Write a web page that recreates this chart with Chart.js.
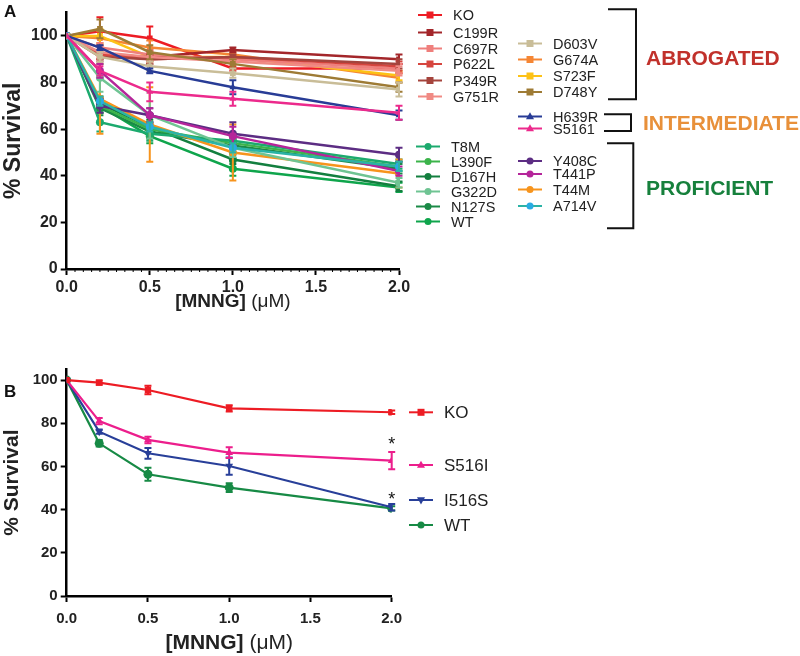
<!DOCTYPE html>
<html>
<head>
<meta charset="utf-8">
<script src="https://cdn.jsdelivr.net/npm/chart.js@4/dist/chart.umd.min.js"></script>
<style>
  html, body { margin: 0; padding: 0; background: #fff; }
  #wrap { position: relative; width: 800px; height: 656px; }
  canvas { position: absolute; left: 0; display: block; }
  #chartA { top: 0; }
  #chartB { top: 335px; }
</style>
</head>
<body>
<div id="wrap">
  <canvas id="chartA" width="800" height="335"></canvas>
  <canvas id="chartB" width="800" height="321"></canvas>
</div>
<script>
// ---- data ----
const doses = [0, 0.2, 0.5, 1.0, 2.0];
const yTicks = [0, 20, 40, 60, 80, 100];

// panel A
const namesA = ["S5161", "H639R", "D603V", "D748Y", "G751R", "P349R", "P622L", "C697R", "C199R", "S723F", "G674A", "KO",
                "A714V", "T441P", "Y408C", "G322D", "T44M", "T8M", "L390F", "N127S", "D167H", "WT"];
const valuesA = [
  [100, 85, 76, 73, 67],
  [100, 95, 85, 78, 66],
  [100, 91, 87, 84, 77],
  [100, 103, 93, 88, 78],
  [100, 93, 91, 89, 85],
  [100, 91, 90, 91, 88],
  [100, 92, 90, 91, 87],
  [100, 95, 92, 90, 86],
  [100, 92, 91, 94, 90],
  [100, 100, 91, 91, 83],
  [100, 99, 95, 92, 82],
  [100, 102, 99, 86, 86],
  [100, 72, 61, 52, 44],
  [100, 85, 66, 57, 42],
  [100, 70, 66, 58, 49],
  [100, 82, 66, 52, 37],
  [100, 73, 62, 50, 41],
  [100, 63, 58, 55, 45],
  [100, 70, 60, 54, 44],
  [100, 69, 59, 53, 43],
  [100, 71, 61, 47, 35.5],
  [100, 70, 57, 43, 35]
];
const errorsA = [
  [0, 2, 4, 3, 3],
  [0, 1, 1, 3, 2],
  [0, 2, 2, 2, 3],
  [0, 4, 3, 2, 2],
  [0, 2, 2, 1, 2],
  [0, 2, 2, 1, 2],
  [0, 2, 2, 1, 2],
  [0, 2, 2, 1, 2],
  [0, 2, 2, 1, 2],
  [0, 3, 2, 2, 2],
  [0, 3, 3, 2, 2],
  [0, 6, 5, 1, 2],
  [0, 2, 2, 2, 2],
  [0, 3, 3, 4, 2],
  [0, 3, 3, 5, 3],
  [0, 6, 10, 4, 2],
  [0, 15, 16, 12, 6],
  [0, 4, 3, 2, 2],
  [0, 3, 3, 2, 2],
  [0, 3, 3, 3, 2],
  [0, 3, 3, 2, 2],
  [0, 3, 3, 3, 2]
];

// panel B
const namesB = ["KO", "S516I", "I516S", "WT"];
const valuesB = [
  [100, 98.8, 95.4, 86.9, 85.1],
  [100, 81, 72.3, 66.4, 62.7],
  [100, 76.1, 66.1, 60.2, 41.1],
  [100, 70.7, 56.4, 50.2, 40.6]
];
const errorsB = [
  [0, 1, 2, 1.5, 0.8],
  [0, 1.5, 1.5, 2.5, 4],
  [0, 1, 2.5, 4, 1.5],
  [0, 1.5, 3, 2, 1]
];
const starsB = [[2, 71.5], [2, 46]];

// ---- styles ----
const FONT = "'Liberation Sans', Arial, Helvetica, sans-serif";
const styleA = {
  KO:    ["#ed1c24", "rect"],
  C199R: ["#a3262a", "rect"],
  C697R: ["#ef7f7c", "rect"],
  P622L: ["#d6453e", "rect"],
  P349R: ["#a5443d", "rect"],
  G751R: ["#f08a84", "rect"],
  D603V: ["#c9bd98", "rect"],
  G674A: ["#f58634", "rect"],
  S723F: ["#fdc216", "rect"],
  D748Y: ["#9e7b35", "rect"],
  H639R: ["#283c96", "triangle"],
  S5161: ["#ec2a8c", "triangle"],
  T8M:   ["#1caa6e", "circle"],
  L390F: ["#3cb44b", "circle"],
  D167H: ["#137f3f", "circle"],
  G322D: ["#6fc493", "circle"],
  N127S: ["#1b8a47", "circle"],
  WT:    ["#0fa54c", "circle"],
  Y408C: ["#5c2d83", "circle"],
  T441P: ["#b5259a", "circle"],
  T44M:  ["#f7941d", "circle"],
  A714V: ["#2bb3a6", "circle", "#29abe2"]
};
const styleB = {
  KO:    ["#ed1c24", "rect", 0],
  S516I: ["#ec1e8c", "triangle", 0],
  I516S: ["#283f99", "triangle", 180],
  WT:    ["#178a45", "circle", 0]
};

// legend layout (canvas pixels)
const slotsA = {
  KO: [418, 15], C199R: [418, 32.5], C697R: [418, 48.5], P622L: [418, 64], P349R: [418, 80.5], G751R: [418, 96.5],
  D603V: [518, 43.5], G674A: [518, 59.5], S723F: [518, 76], D748Y: [518, 92],
  H639R: [518, 116.5], S5161: [518, 128.5],
  T8M: [416, 146.5], L390F: [416, 161.5], D167H: [416, 176.5], G322D: [416, 191.5], N127S: [416, 206.5], WT: [416, 221.5],
  Y408C: [518, 161], T441P: [518, 174], T44M: [518, 189.5], A714V: [518, 206]
};
const slotsB = { KO: [409, 77.3], S516I: [409, 130], I516S: [409, 165], WT: [409, 190] };

function marker(ctx, style, x, y, r, color, rot) {
  ctx.fillStyle = color;
  ctx.beginPath();
  if (style === "rect") {
    ctx.rect(x - r, y - r, 2 * r, 2 * r);
  } else if (style === "triangle") {
    const s = rot ? -1 : 1;
    ctx.moveTo(x, y - s * r * 1.25);
    ctx.lineTo(x + r * 1.15, y + s * r * 0.8);
    ctx.lineTo(x - r * 1.15, y + s * r * 0.8);
    ctx.closePath();
  } else {
    ctx.arc(x, y, r, 0, Math.PI * 2);
  }
  ctx.fill();
}

const errorBars = {
  id: "errorBars",
  afterDatasetDraw(chart, args) {
    const ds = chart.data.datasets[args.index];
    if (!ds.errors) return;
    const xs = chart.scales.x, ys = chart.scales.y, ctx = chart.ctx;
    ctx.save();
    ctx.strokeStyle = ds.borderColor;
    ctx.lineWidth = 2;
    ds.data.forEach((p, i) => {
      const e = ds.errors[i];
      if (!e) return;
      const px = xs.getPixelForValue(p.x);
      const t = ys.getPixelForValue(p.y + e), b = ys.getPixelForValue(p.y - e);
      ctx.beginPath();
      ctx.moveTo(px, t); ctx.lineTo(px, b);
      ctx.moveTo(px - 3.5, t); ctx.lineTo(px + 3.5, t);
      ctx.moveTo(px - 3.5, b); ctx.lineTo(px + 3.5, b);
      ctx.stroke();
    });
    ctx.restore();
  }
};

function drawXTitle(chart, y, size) {
  const ctx = chart.ctx, a = chart.chartArea;
  const p1 = "[MNNG]", p2 = " (\u03bcM)";
  ctx.save();
  ctx.fillStyle = "#222";
  ctx.textBaseline = "middle";
  ctx.font = "bold " + size + "px " + FONT;
  const w1 = ctx.measureText(p1).width;
  ctx.font = size + "px " + FONT;
  const w2 = ctx.measureText(p2).width;
  const x0 = (a.left + a.right) / 2 - (w1 + w2) / 2;
  ctx.font = "bold " + size + "px " + FONT;
  ctx.textAlign = "left";
  ctx.fillText(p1, x0, y);
  ctx.font = size + "px " + FONT;
  ctx.fillText(p2, x0 + w1, y);
  ctx.restore();
}

function drawLegend(ctx, names, slots, styles, fontSize, r) {
  ctx.save();
  ctx.textBaseline = "middle";
  ctx.textAlign = "left";
  ctx.font = fontSize + "px " + FONT;
  names.forEach(n => {
    const [x, y] = slots[n];
    const st = styles[n];
    ctx.strokeStyle = st[0];
    ctx.lineWidth = 2;
    ctx.beginPath(); ctx.moveTo(x, y); ctx.lineTo(x + 24, y); ctx.stroke();
    marker(ctx, st[1], x + 12, y, r, st[2] && typeof st[2] === "string" ? st[2] : st[0], typeof st[2] === "number" ? st[2] : 0);
    ctx.fillStyle = "#222";
    ctx.fillText(n, x + 35, y + 1);
  });
  ctx.restore();
}

function bracket(ctx, x0, x1, y0, y1) {
  ctx.beginPath();
  ctx.moveTo(x0, y0); ctx.lineTo(x1, y0); ctx.lineTo(x1, y1); ctx.lineTo(x0, y1);
  ctx.stroke();
}

const decorA = {
  id: "decorA",
  afterDraw(chart) {
    const ctx = chart.ctx;
    // minor ticks on x axis
    const xs = chart.scales.x, yb = chart.chartArea.bottom;
    ctx.save();
    ctx.strokeStyle = "#000";
    ctx.lineWidth = 1;
    for (let k = 1; k < 40; k++) {
      if (k % 10 === 0) continue;
      const px = xs.getPixelForValue(k * 0.05);
      ctx.beginPath(); ctx.moveTo(px, yb); ctx.lineTo(px, yb + 3); ctx.stroke();
    }
    ctx.restore();

    drawXTitle(chart, 302, 19);

    ctx.save();
    ctx.fillStyle = "#111";
    ctx.font = "bold 17px " + FONT;
    ctx.textBaseline = "middle";
    ctx.fillText("A", 4, 12);
    ctx.restore();

    drawLegend(ctx, namesA, slotsA, styleA, 14.5, 3.5);

    ctx.save();
    ctx.strokeStyle = "#111";
    ctx.lineWidth = 2;
    bracket(ctx, 608, 636, 9.3, 99.3);
    bracket(ctx, 604, 631, 114.3, 131);
    bracket(ctx, 607, 633.3, 143.3, 228.3);
    ctx.font = "bold 21px " + FONT;
    ctx.textBaseline = "middle";
    ctx.fillStyle = "#c1312b";
    ctx.fillText("ABROGATED", 646, 59);
    ctx.fillStyle = "#e8903a";
    ctx.fillText("INTERMEDIATE", 643, 124);
    ctx.fillStyle = "#16803c";
    ctx.fillText("PROFICIENT", 646, 189);
    ctx.restore();
  }
};

const decorB = {
  id: "decorB",
  afterDraw(chart) {
    const ctx = chart.ctx;
    drawXTitle(chart, 308, 21);
    ctx.save();
    ctx.fillStyle = "#111";
    ctx.font = "bold 17px " + FONT;
    ctx.textBaseline = "middle";
    ctx.fillText("B", 4, 57);
    ctx.font = "18px " + FONT;
    ctx.textAlign = "center";
    const xs = chart.scales.x, ys = chart.scales.y;
    starsB.forEach(([sx, sy]) => ctx.fillText("*", xs.getPixelForValue(sx), ys.getPixelForValue(sy) + 3));
    ctx.restore();
    drawLegend(ctx, namesB, slotsB, styleB, 17, 3.5);
  }
};

function axes(tickSize, yTitleSize, xHeight, yMax, xPad) {
  const tickFont = { family: FONT, weight: "bold", size: tickSize };
  return {
    x: {
      type: "linear", min: 0, max: 2,
      ticks: { stepSize: 0.5, callback: v => v.toFixed(1), font: tickFont, color: "#222", padding: xPad, maxRotation: 0 },
      grid: { drawOnChartArea: false, tickLength: 6, tickWidth: 2, tickColor: "#000" },
      border: { color: "#000", width: 2.5 },
      afterFit: s => { s.height = xHeight; }
    },
    y: {
      min: 0, max: yMax,
      afterBuildTicks: s => { s.ticks = yTicks.map(v => ({ value: v })); },
      ticks: { font: tickFont, color: "#222", padding: 3 },
      grid: { drawOnChartArea: false, tickLength: 6, tickWidth: 2, tickColor: "#000" },
      border: { color: "#000", width: 2.5 },
      title: { display: true, text: "% Survival", font: { family: FONT, weight: "bold", size: yTitleSize }, color: "#222", padding: 0 },
      afterFit: s => { s.width = 66.7; }
    }
  };
}

new Chart(document.getElementById("chartA").getContext("2d"), {
  type: "line",
  data: {
    datasets: namesA.map((n, i) => ({
      label: n,
      data: doses.map((d, j) => ({ x: d, y: valuesA[i][j] })),
      errors: errorsA[i],
      borderColor: styleA[n][0],
      backgroundColor: styleA[n][2] || styleA[n][0],
      pointBackgroundColor: styleA[n][2] || styleA[n][0],
      pointBorderWidth: 0,
      pointStyle: styleA[n][1],
      pointRadius: 4,
      borderWidth: 2.5,
      tension: 0
    }))
  },
  options: {
    responsive: false,
    animation: false,
    layout: { padding: { left: 0, right: 401, top: 10, bottom: 0 } },
    plugins: { legend: { display: false }, tooltip: { enabled: false } },
    scales: axes(16, 23, 66, 110, 3)
  },
  plugins: [errorBars, decorA]
});

new Chart(document.getElementById("chartB").getContext("2d"), {
  type: "line",
  data: {
    datasets: namesB.map((n, i) => ({
      label: n,
      data: doses.map((d, j) => ({ x: d, y: valuesB[i][j] })),
      errors: errorsB[i],
      borderColor: styleB[n][0],
      backgroundColor: styleB[n][0],
      pointBorderWidth: 0,
      pointStyle: styleB[n][1],
      rotation: styleB[n][2],
      pointRadius: 4.5,
      borderWidth: 2.2,
      tension: 0
    }))
  },
  options: {
    responsive: false,
    animation: false,
    layout: { padding: { left: 0, right: 408.3, top: 34.3, bottom: 0 } },
    plugins: { legend: { display: false }, tooltip: { enabled: false } },
    scales: axes(15, 21, 60, 105, 8)
  },
  plugins: [errorBars, decorB]
});
</script>
</body>
</html>
